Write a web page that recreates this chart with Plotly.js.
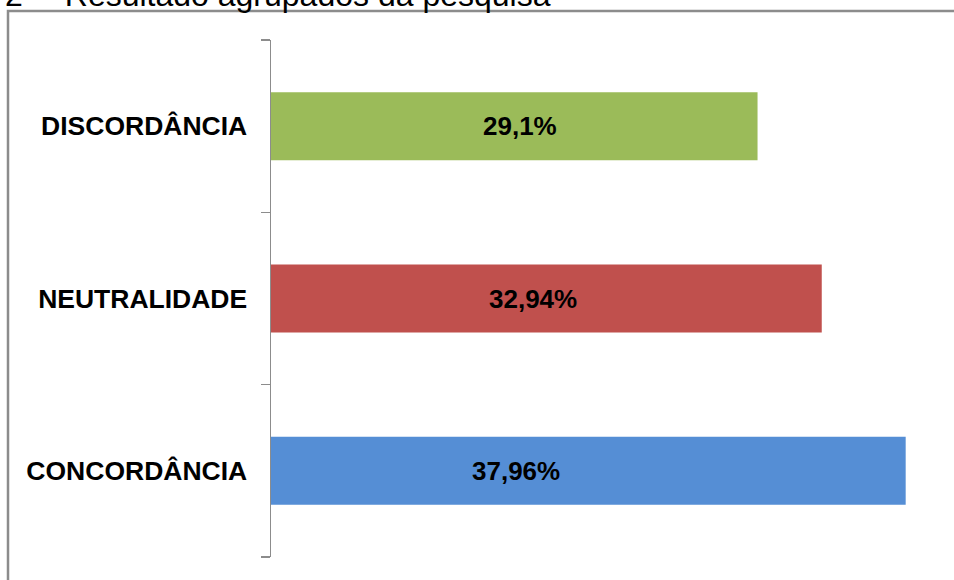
<!DOCTYPE html>
<html>
<head>
<meta charset="utf-8">
<script src="https://cdn.plot.ly/plotly-3.0.1.min.js"></script>
<style>html,body{margin:0;padding:0;background:#fff;}#chart{width:954px;height:580px;}</style>
</head>
<body>
<div id="chart"></div>
<script>
const categories = ["CONCORDÂNCIA", "NEUTRALIDADE", "DISCORDÂNCIA"];
const values = [37.96, 32.94, 29.1];
const valueLabels = ["37,96%", "32,94%", "29,1%"];
const labelX = [14.65, 15.67, 14.89];
const barColors = ["#558ED5", "#C0504D", "#9BBB59"];
const chartTitle = "2\u2009 – Resultado agrupados da pesquisa";

const W = 954, H = 580;
const L = 271, T = 40, B = 557;
const pw = W - L, ph = B - T;
const px = x => (x - L) / pw;
const py = y => (B - y) / ph;
const FONT = "Liberation Sans, Arial, sans-serif";

const trace = {
  type: "bar",
  orientation: "h",
  x: values,
  y: categories,
  textposition: "none",
  marker: {color: barColors, line: {width: 0}},
  hoverinfo: "none"
};

const valueAnnotations = categories.map((c, i) => ({
  text: valueLabels[i], xref: "x", yref: "y",
  x: labelX[i], y: c, xanchor: "center", yanchor: "middle",
  showarrow: false,
  font: {family: FONT, size: 26, color: "#000", weight: "bold"}
}));

const layout = {
  width: W, height: H,
  margin: {l: L, r: 0, t: T, b: H - B, pad: 0},
  paper_bgcolor: "#fff",
  plot_bgcolor: "#fff",
  showlegend: false,
  bargap: 0.605,
  font: {family: FONT, color: "#000"},
  xaxis: {range: [0, 40.85], visible: false, fixedrange: true},
  yaxis: {
    type: "category",
    categoryorder: "array",
    categoryarray: categories,
    range: [-0.5, 2.5],
    showline: true, linecolor: "#8c8c8c", linewidth: 1.5,
    ticks: "outside", tickson: "boundaries", ticklen: 9, tickcolor: "#8c8c8c", tickwidth: 1.5,
    ticklabelstandoff: 17,
    tickfont: {family: FONT, size: 26.5, color: "#000", weight: "bold"},
    showgrid: false, zeroline: false, fixedrange: true
  },
  shapes: [{
    type: "rect", xref: "paper", yref: "paper",
    x0: px(8), x1: px(W + 10), y0: py(H + 10), y1: py(11),
    line: {color: "#8c8c8c", width: 2.5}, fillcolor: "rgba(0,0,0,0)", layer: "below"
  }],
  annotations: [{
    text: chartTitle, xref: "paper", yref: "paper",
    x: px(3), y: py(-5), xanchor: "left", yanchor: "middle",
    showarrow: false,
    font: {family: FONT, size: 32, color: "#000"}
  }].concat(valueAnnotations)
};

Plotly.newPlot("chart", [trace], layout, {displayModeBar: false, staticPlot: true});
</script>
</body>
</html>
